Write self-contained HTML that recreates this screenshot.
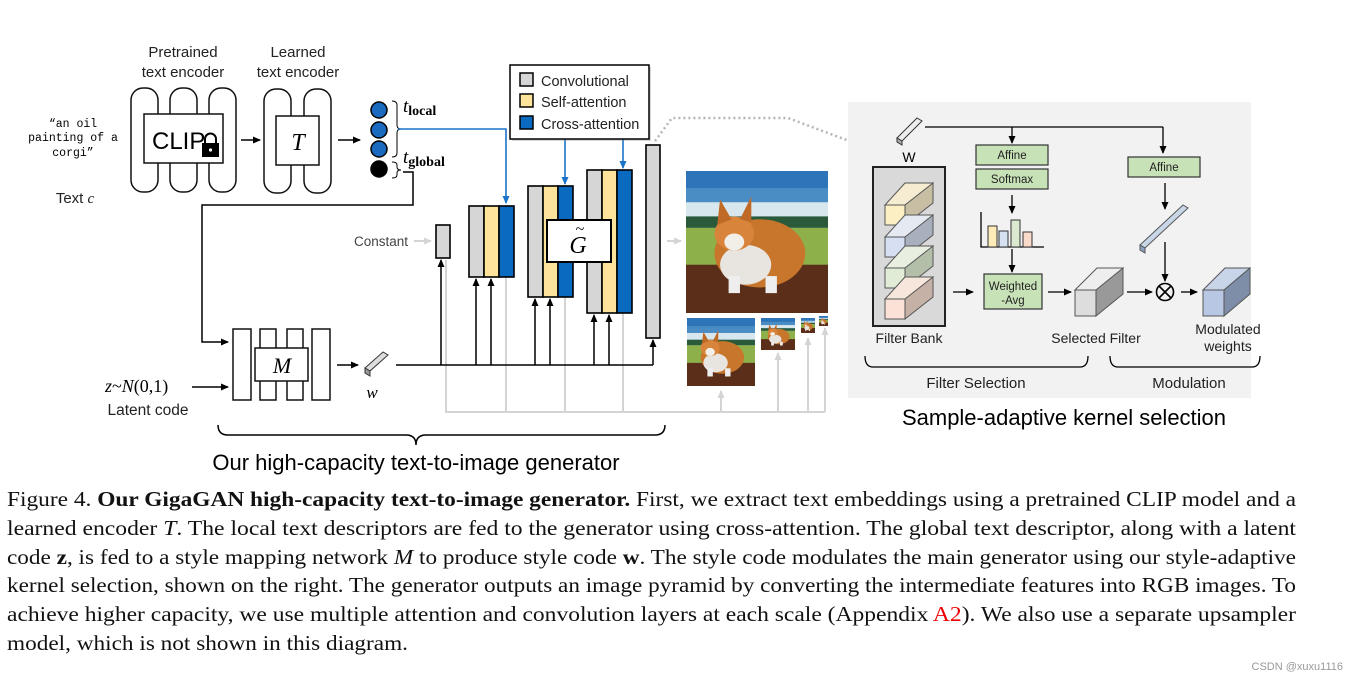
<!DOCTYPE html>
<html><head><meta charset="utf-8"><style>
html,body{margin:0;padding:0;background:#fff;}
svg{display:block;}
.s{font-family:"Liberation Sans",sans-serif;}
.r{font-family:"Liberation Serif",serif;}
</style></head><body>
<svg width="1354" height="681" viewBox="0 0 1354 681" xmlns="http://www.w3.org/2000/svg">
<defs>
<marker id="ab" markerWidth="8" markerHeight="8" refX="7" refY="4" orient="auto" markerUnits="userSpaceOnUse"><path d="M0,0.5 L8,4 L0,7.5z" fill="#000"/></marker>
<marker id="abl" markerWidth="8" markerHeight="8" refX="7" refY="4" orient="auto" markerUnits="userSpaceOnUse"><path d="M0,0.5 L8,4 L0,7.5z" fill="#1a73c8"/></marker>
<marker id="ag" markerWidth="8" markerHeight="8" refX="7" refY="4" orient="auto" markerUnits="userSpaceOnUse"><path d="M0,0.5 L8,4 L0,7.5z" fill="#d4d4d4"/></marker>
<symbol id="corgi" viewBox="0 0 100 100" preserveAspectRatio="none">
<rect width="100" height="100" fill="#4a8cc4"/>
<rect y="0" width="100" height="12" fill="#2d74b8"/>
<rect y="22" width="100" height="10" fill="#d8e6ee"/>
<rect y="32" width="100" height="8" fill="#2b5a3a"/>
<rect y="40" width="100" height="30" fill="#8db04a"/>
<rect y="66" width="100" height="34" fill="#5a2e18"/>
<ellipse cx="52" cy="58" rx="32" ry="24" fill="#c8762c"/>
<ellipse cx="42" cy="66" rx="18" ry="14" fill="#e8e4e0"/>
<ellipse cx="34" cy="44" rx="14" ry="12" fill="#d8843a"/>
<ellipse cx="34" cy="50" rx="7" ry="6" fill="#f2eee8"/>
<path d="M22,38 L24,20 L32,34z M38,34 L46,18 L46,36z" fill="#c06a28"/>
<rect x="30" y="74" width="8" height="12" fill="#eee"/><rect x="56" y="74" width="8" height="12" fill="#eee"/>
</symbol>
</defs>

<g class="s" font-size="15" fill="#222" text-anchor="middle">
<text x="183" y="57">Pretrained</text><text x="183" y="77">text encoder</text>
<text x="298" y="57">Learned</text><text x="298" y="77">text encoder</text>
<text x="75" y="203">Text <tspan class="r" font-style="italic">c</tspan></text>
</g>
<g font-family="Liberation Mono,monospace" font-size="11.5" fill="#000" text-anchor="middle">
<text x="73" y="127">“an oil</text><text x="73" y="141">painting of a</text><text x="73" y="156">corgi”</text>
</g>

<g fill="#fff" stroke="#111" stroke-width="1.5">
<rect x="131" y="88" width="27" height="104" rx="12"/>
<rect x="170" y="88" width="27" height="104" rx="12"/>
<rect x="209" y="88" width="27" height="104" rx="12"/>
<rect x="144" y="114" width="79" height="49"/>
<rect x="264" y="89" width="27" height="104" rx="12"/>
<rect x="304" y="89" width="27" height="104" rx="12"/>
<rect x="276" y="116" width="43" height="49"/>
</g>
<text x="152" y="149" class="s" font-size="24" fill="#000">CLIP</text>
<rect x="202" y="143" width="17" height="14" fill="#000"/>
<path d="M205,143 v-4 a5.5,5.5 0 0 1 11,0 v4" fill="none" stroke="#000" stroke-width="2"/>
<circle cx="210.5" cy="150" r="1.6" fill="#fff"/>
<text x="298" y="150" class="r" font-style="italic" font-size="24" text-anchor="middle">T</text>
<g stroke="#000" stroke-width="1.5">
<line x1="241" y1="140" x2="260" y2="140" marker-end="url(#ab)"/>
<line x1="338" y1="140" x2="360" y2="140" marker-end="url(#ab)"/>
</g>
<g stroke="#000" stroke-width="1.5"><circle cx="379" cy="110" r="8" fill="#1a6bc0"/><circle cx="379" cy="130" r="8" fill="#1a6bc0"/><circle cx="379" cy="149" r="8" fill="#1a6bc0"/><circle cx="379" cy="169" r="8" fill="#000"/></g>
<path d="M392,101 q5,0 5,4 v20 q0,4 4,4 q-4,0 -4,4 v20 q0,4 -5,4" fill="none" stroke="#000"/>
<path d="M392,162 q5,0 5,3 v2 q0,3 4,3 q-4,0 -4,3 v2 q0,3 -5,3" fill="none" stroke="#000"/>
<g class="r" font-size="19"><text x="403" y="112" font-style="italic">t<tspan font-style="normal" font-size="14" font-weight="bold" dy="3">local</tspan></text>
<text x="403" y="163" font-style="italic">t<tspan font-style="normal" font-size="14" font-weight="bold" dy="3">global</tspan></text></g>

<g stroke="#1a73c8" stroke-width="1.6" fill="none">
<polyline points="398,129 506,129 506,203" marker-end="url(#abl)"/>
<line x1="565" y1="138" x2="565" y2="184" marker-end="url(#abl)"/>
<line x1="623" y1="138" x2="623" y2="168" marker-end="url(#abl)"/>
</g>
<rect x="512" y="67" width="139" height="74" fill="#888" opacity="0.35"/>
<rect x="510" y="65" width="139" height="74" fill="#fff" stroke="#000" stroke-width="1.5"/>
<g stroke="#000" stroke-width="1.5"><rect x="520" y="73" width="13" height="13" fill="#d6d6d6"/><rect x="520" y="94" width="13" height="13" fill="#fde49a"/><rect x="520" y="116" width="13" height="13" fill="#0a6abf"/></g>
<g class="s" font-size="14.5" fill="#222"><text x="541" y="86">Convolutional</text><text x="541" y="107">Self-attention</text><text x="541" y="129">Cross-attention</text></g>

<polyline points="403,172 413,172 413,205 202,205 202,342 228,342" fill="none" stroke="#000" stroke-width="1.5" marker-end="url(#ab)"/>

<g fill="#fff" stroke="#111" stroke-width="1.5">
<rect x="233" y="329" width="18" height="71"/><rect x="260" y="329" width="16" height="71"/><rect x="287" y="329" width="16" height="71"/><rect x="312" y="329" width="18" height="71"/>
<rect x="255" y="348" width="53" height="33"/></g>
<text x="282" y="373" class="r" font-style="italic" font-size="22" text-anchor="middle">M</text>
<text x="105" y="392" class="r" font-size="18"><tspan font-style="italic">z</tspan>~<tspan font-style="italic">N</tspan>(0,1)</text>
<text x="148" y="415" class="s" font-size="15.5" text-anchor="middle" fill="#222">Latent code</text>
<line x1="192" y1="387" x2="228" y2="387" stroke="#000" stroke-width="1.5" marker-end="url(#ab)"/>
<line x1="337" y1="365" x2="358" y2="365" stroke="#000" stroke-width="1.5" marker-end="url(#ab)"/>
<g stroke="#333" stroke-width="1"><polygon points="365,368 383,352 388,355 370,371" fill="#ddd"/><polygon points="365,368 370,371 370,376 365,373" fill="#999"/></g>
<text x="372" y="398" class="r" font-style="italic" font-size="17" text-anchor="middle">w</text>

<g stroke="#d4d4d4" stroke-width="2" fill="none">
<polyline points="446,260 446,412 825,412"/>
<line x1="506" y1="277" x2="506" y2="412"/><line x1="565" y1="297" x2="565" y2="412"/><line x1="623" y1="313" x2="623" y2="412"/>
<line x1="721" y1="412" x2="721" y2="391" marker-end="url(#ag)"/>
<line x1="778" y1="412" x2="778" y2="353" marker-end="url(#ag)"/>
<line x1="808" y1="412" x2="808" y2="338" marker-end="url(#ag)"/>
<line x1="825" y1="412" x2="825" y2="328" marker-end="url(#ag)"/>
<line x1="414" y1="241" x2="431" y2="241" marker-end="url(#ag)"/>
<line x1="667" y1="241" x2="681" y2="241" marker-end="url(#ag)"/>
</g>
<polyline points="655,141 672,118 788,118 852,142" fill="none" stroke="#b5b5b5" stroke-width="2.5" stroke-dasharray="2,3"/>
<text x="354" y="246" class="s" font-size="13.5" fill="#444">Constant</text>

<line x1="396" y1="365" x2="653" y2="365" stroke="#000" stroke-width="1.5"/>
<g stroke="#000" stroke-width="1.5">
<line x1="441" y1="365" x2="441" y2="260" marker-end="url(#ab)"/>
<line x1="476" y1="365" x2="476" y2="279" marker-end="url(#ab)"/><line x1="491" y1="365" x2="491" y2="279" marker-end="url(#ab)"/>
<line x1="535" y1="365" x2="535" y2="299" marker-end="url(#ab)"/><line x1="550" y1="365" x2="550" y2="299" marker-end="url(#ab)"/>
<line x1="594" y1="365" x2="594" y2="315" marker-end="url(#ab)"/><line x1="609" y1="365" x2="609" y2="315" marker-end="url(#ab)"/>
<line x1="653" y1="365" x2="653" y2="340" marker-end="url(#ab)"/>
</g>
<g stroke="#000" stroke-width="1.6">
<rect x="436" y="225" width="14" height="33" fill="#d6d6d6"/>
<rect x="469" y="206" width="15" height="71" fill="#d6d6d6"/><rect x="484" y="206" width="15" height="71" fill="#fde49a"/><rect x="499" y="206" width="15" height="71" fill="#0a6abf"/>
<rect x="528" y="186" width="15" height="111" fill="#d6d6d6"/><rect x="543" y="186" width="15" height="111" fill="#fde49a"/><rect x="558" y="186" width="15" height="111" fill="#0a6abf"/>
<rect x="587" y="170" width="15" height="143" fill="#d6d6d6"/><rect x="602" y="170" width="15" height="143" fill="#fde49a"/><rect x="617" y="170" width="15" height="143" fill="#0a6abf"/>
<rect x="646" y="145" width="14" height="193" fill="#d6d6d6"/>
<rect x="547" y="220" width="64" height="42" fill="#fff" stroke-width="2"/>
</g>
<text x="578" y="253" class="r" font-style="italic" font-size="24" text-anchor="middle">G</text>
<text x="580" y="234" class="r" font-size="16" text-anchor="middle">~</text>

<use href="#corgi" x="686" y="171" width="142" height="142"/>
<use href="#corgi" x="687" y="318" width="68" height="68"/>
<use href="#corgi" x="761" y="318" width="34" height="32"/>
<use href="#corgi" x="801" y="318" width="14" height="15"/>
<use href="#corgi" x="819" y="316" width="9" height="10"/>

<path d="M218,425 q0,10 10,10 h178 q10,0 10,10 q0,-10 10,-10 h229 q10,0 10,-10" fill="none" stroke="#000" stroke-width="1.5"/>
<text x="416" y="470" class="s" font-size="22" text-anchor="middle">Our high-capacity text-to-image generator</text>

<rect x="848" y="102" width="403" height="296" fill="#f2f2f2"/>
<g stroke="#333" stroke-width="1"><polygon points="897,138 917,118 922,121 902,141" fill="#eee"/><polygon points="897,138 902,141 902,145 897,142" fill="#aaa"/></g>
<text x="909" y="162" class="s" font-size="14" text-anchor="middle">W</text>
<g stroke="#000" stroke-width="1.3" fill="none">
<line x1="925" y1="127" x2="1163" y2="127"/>
<line x1="1012" y1="127" x2="1012" y2="143" marker-end="url(#ab)"/>
<line x1="1163" y1="127" x2="1163" y2="153" marker-end="url(#ab)"/>
<line x1="1012" y1="195" x2="1012" y2="213" marker-end="url(#ab)"/>
<line x1="1012" y1="249" x2="1012" y2="272" marker-end="url(#ab)"/>
<line x1="953" y1="292" x2="973" y2="292" marker-end="url(#ab)"/>
<line x1="1048" y1="292" x2="1071" y2="292" marker-end="url(#ab)"/>
<line x1="1165" y1="183" x2="1165" y2="209" marker-end="url(#ab)"/>
<line x1="1165" y1="242" x2="1165" y2="281" marker-end="url(#ab)"/>
<line x1="1127" y1="292" x2="1152" y2="292" marker-end="url(#ab)"/>
<line x1="1181" y1="292" x2="1197" y2="292" marker-end="url(#ab)"/>
<polyline points="981,212 981,247 1044,247"/>
</g>
<g stroke="#333" stroke-width="1.2" fill="#c8e2b8">
<rect x="976" y="145" width="72" height="20"/><rect x="976" y="169" width="72" height="20"/>
<rect x="984" y="274" width="58" height="35"/><rect x="1128" y="157" width="72" height="20"/>
</g>
<g class="s" font-size="11.5" fill="#222" text-anchor="middle">
<text x="1012" y="159">Affine</text><text x="1012" y="183">Softmax</text>
<text x="1013" y="290">Weighted</text><text x="1013" y="304">-Avg</text><text x="1164" y="171">Affine</text>
</g>
<g stroke="#333" stroke-width="1"><rect x="988" y="226" width="9" height="21" fill="#fdebb8"/><rect x="999" y="231" width="9" height="16" fill="#d6e2f2"/><rect x="1011" y="220" width="9" height="27" fill="#dbe9cf"/><rect x="1023" y="232" width="9" height="15" fill="#fadacb"/></g>
<rect x="873" y="167" width="72" height="159" fill="#d9d9d9" stroke="#222" stroke-width="2"/>
<g stroke="#555" stroke-width="1">
<g><polygon points="885,205 905,183 933,183 913,205" fill="#f5ecd2"/><polygon points="905,225 933,203 933,183 905,205" fill="#c8bea4"/><rect x="885" y="205" width="20" height="20" fill="#fdefc4"/></g>
<g><polygon points="885,237 905,215 933,215 913,237" fill="#e4e9f2"/><polygon points="905,257 933,235 933,215 905,237" fill="#a8b0bd"/><rect x="885" y="237" width="20" height="20" fill="#d6e0f2"/></g>
<g><polygon points="885,268 905,246 933,246 913,268" fill="#e8efe0"/><polygon points="905,288 933,266 933,246 905,268" fill="#b4bfa9"/><rect x="885" y="268" width="20" height="20" fill="#e1ecd6"/></g>
<g><polygon points="885,299 905,277 933,277 913,299" fill="#f7e6dc"/><polygon points="905,319 933,297 933,277 905,299" fill="#c6b1a6"/><rect x="885" y="299" width="20" height="20" fill="#fbe1d6"/></g>
<g><polygon points="1075,290 1097,268 1123,268 1101,290" fill="#eee"/><polygon points="1096,316 1123,294 1123,268 1096,290" fill="#999"/><rect x="1075" y="290" width="21" height="26" fill="#ddd"/></g>
<g><polygon points="1203,290 1225,268 1250,268 1228,290" fill="#c8d4e8"/><polygon points="1224,316 1250,294 1250,268 1224,290" fill="#7f8ea8"/><rect x="1203" y="290" width="21" height="26" fill="#b8c8e4"/></g>
<polygon points="1140,245 1183,205 1188,208 1145,248" fill="#c8d6e8"/><polygon points="1140,245 1145,248 1145,253 1140,250" fill="#8ca0c0"/>
</g>
<circle cx="1165" cy="292" r="8.5" fill="none" stroke="#000" stroke-width="1.6"/>
<path d="M1159,286 L1171,298 M1171,286 L1159,298" stroke="#000" stroke-width="1.6"/>
<g class="s" font-size="14" fill="#222" text-anchor="middle">
<text x="909" y="343">Filter Bank</text><text x="1096" y="343">Selected Filter</text>
<text x="1228" y="334">Modulated</text><text x="1228" y="351">weights</text>
<text x="976" y="388" font-size="15">Filter Selection</text><text x="1189" y="388" font-size="15">Modulation</text>
</g>
<g fill="none" stroke="#000" stroke-width="1.3">
<path d="M865,356 q0,11 8,11 h207 q8,0 8,-11"/>
<path d="M1110,356 q0,11 8,11 h134 q8,0 8,-11"/>
</g>
<text x="1064" y="425" class="s" font-size="22" text-anchor="middle">Sample-adaptive kernel selection</text>

<g class="r" font-size="21" fill="#111">
<text x="7" y="506" textLength="1289" lengthAdjust="spacingAndGlyphs">Figure 4. <tspan font-weight="bold">Our GigaGAN high-capacity text-to-image generator.</tspan> First, we extract text embeddings using a pretrained CLIP model and a</text>
<text x="7" y="535" textLength="1289" lengthAdjust="spacingAndGlyphs">learned encoder <tspan font-style="italic">T</tspan>. The local text descriptors are fed to the generator using cross-attention. The global text descriptor, along with a latent</text>
<text x="7" y="564" textLength="1289" lengthAdjust="spacingAndGlyphs">code <tspan font-weight="bold">z</tspan>, is fed to a style mapping network <tspan font-style="italic">M</tspan> to produce style code <tspan font-weight="bold">w</tspan>. The style code modulates the main generator using our style-adaptive</text>
<text x="7" y="592" textLength="1289" lengthAdjust="spacingAndGlyphs">kernel selection, shown on the right. The generator outputs an image pyramid by converting the intermediate features into RGB images. To</text>
<text x="7" y="621" textLength="1289" lengthAdjust="spacingAndGlyphs">achieve higher capacity, we use multiple attention and convolution layers at each scale (Appendix <tspan fill="#e00">A2</tspan>). We also use a separate upsampler</text>
<text x="7" y="650" textLength="401" lengthAdjust="spacingAndGlyphs">model, which is not shown in this diagram.</text>
</g>
<text x="1343" y="670" class="s" font-size="11" fill="#999" text-anchor="end">CSDN @xuxu1116</text>
</svg>
</body></html>
